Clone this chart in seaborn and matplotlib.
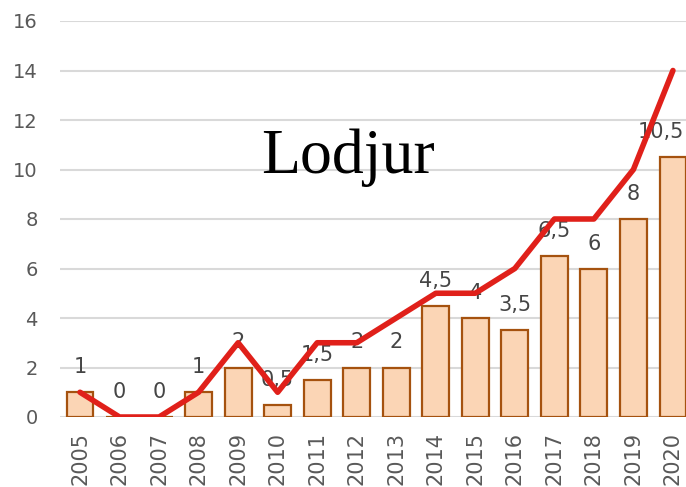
import matplotlib
matplotlib.use("Agg")
import matplotlib.pyplot as plt
import numpy as np
import pandas as pd
import seaborn as sns

years = [str(y) for y in range(2005, 2021)]
bar_values = [1, 0, 0, 1, 2, 0.5, 1.5, 2, 2, 4.5, 4, 3.5, 6.5, 6, 8, 10.5]
line_values = [1, 0, 0, 1, 3, 1, 3, 3, 4, 5, 5, 6, 8, 8, 10, 14]
y_ticks = [0, 2, 4, 6, 8, 10, 12, 14, 16]
title_text = "Lodjur"

sns.set_theme(style="white")
plt.rcParams["font.family"] = ["DejaVu Sans"]

df = pd.DataFrame({"year": years, "bars": bar_values, "line": line_values})

fig = plt.figure(figsize=(6.86, 4.87), dpi=100)
ax = fig.add_axes([60 / 686, 70 / 487, 626 / 686, 396 / 487])

#
# Bars
#
sns.barplot(
    data=df,
    x="year",
    y="bars",
    color="#FBD5B5",
    edgecolor="#A5520F",
    linewidth=1.6,
    width=0.68,
    saturation=1,
    ax=ax,
    zorder=2,
)

#
# Red line on the same category positions
#
sns.lineplot(
    x=np.arange(len(years)),
    y=df["line"],
    color="#E0201A",
    linewidth=4.0,
    ax=ax,
    zorder=4,
)

#
# Data labels (last one nudged left to stay inside the figure)
#
for i, v in enumerate(bar_values):
    label = f"{v:g}".replace(".", ",")
    dx = -9 if i == len(bar_values) - 1 else 0
    ax.annotate(
        label,
        xy=(i, v),
        xytext=(dx, 18),
        textcoords="offset points",
        ha="center",
        va="center",
        fontsize=15,
        color="#454545",
        zorder=3,
    )

ax.text(
    0.46, 0.655, title_text,
    transform=ax.transAxes,
    ha="center",
    va="center",
    fontsize=46,
    family="Liberation Serif",
    color="black",
    zorder=5,
)

ax.set_ylim(0, 16)
ax.set_xlim(-0.506, 15.33)
ax.set_yticks(y_ticks)
ax.set_yticklabels([str(t) for t in y_ticks])
ax.yaxis.grid(True, color="#D9D9D9", linewidth=1.5, zorder=0)
ax.set_axisbelow(True)

ax.tick_params(axis="y", length=0, pad=16, labelsize=14, labelcolor="#595959")
ax.tick_params(axis="x", length=0, pad=11, labelsize=15, labelcolor="#595959",
               labelrotation=90)

ax.set_xlabel("")
ax.set_ylabel("")
sns.despine(ax=ax, left=True, bottom=True)

fig.savefig("out.png", dpi=100)
plt.close(fig)
